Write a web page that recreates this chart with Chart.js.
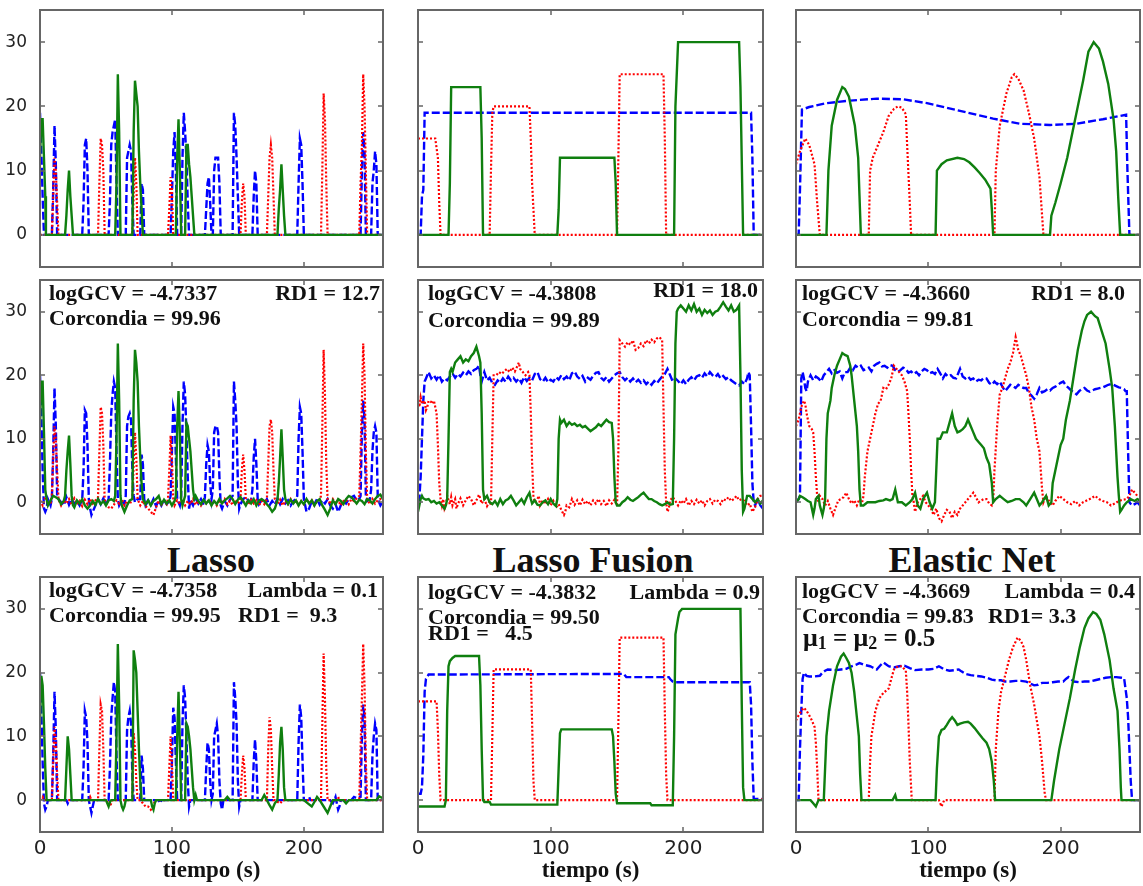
<!DOCTYPE html>
<html>
<head>
<meta charset="utf-8">
<title>Lasso / Lasso Fusion / Elastic Net</title>
<script src="https://cdn.jsdelivr.net/npm/chart.js@4.4.1/dist/chart.umd.min.js"></script>
<style>
  html, body { margin: 0; padding: 0; background: #fff; }
  #figure { position: relative; width: 1143px; height: 886px; background: #fff; overflow: hidden; }
  #figure canvas { position: absolute; }
  .method-title {
    position: absolute; width: 300px; text-align: center;
    font: bold 36px "Liberation Serif", "Times New Roman", serif;
    line-height: 36px; color: #111;
  }
</style>
</head>
<body>
<div id="figure"></div>
<script>
// ─── Axes ─────────────────────────────────────────────────────────────────
const xTicks = [0, 100, 200];
const yTicks = [0, 10, 20, 30];
const xRange = [0, 260];
const yRange = [-5, 35];
const methodTitles = ['Lasso', 'Lasso Fusion', 'Elastic Net'];
const xAxisTitle = 'tiempo (s)';

// ─── Signals, [tiempo, valor] (blue / red / green) ─────────────────────────
// Lasso: sparse spikes
const lassoTrueBlue = [[0,19],[1,13],[2,6],[3,0],[9,0],[10,7],[11,17],[12,11],[13,0],[32,0],[33,5],[34,14],[35,15],[36,10],[37,0],[52,0],[53,5],[54,14],[55,16],[56,17],[57,18],[58,8],[59,0],[65,0],[66,12],[67,13],[68,14],[69,13],[70,5],[71,0],[76,0],[77,8],[78,7],[79,0],[99,0],[100,6],[101,13],[102,16],[103,10],[104,0],[107,0],[108,12],[109,19],[110,16],[111,12],[112,5],[113,0],[125,0],[126,4],[127,8],[128,9],[129,5],[130,0],[131,0],[132,10],[133,12],[134,12],[135,12],[136,8],[137,0],[146,0],[147,19],[148,17],[149,12],[150,6],[151,0],[161,0],[162,6],[163,10],[164,8],[165,0],[195,0],[196,8],[197,15],[198,14],[199,8],[200,0],[243,0],[244,10],[245,16],[246,13],[247,0],[251,0],[252,8],[253,10],[254,13],[255,11],[256,0],[260,0]];
const lassoTrueRed = [[0,0],[9,0],[10,6],[11,12],[12,10],[13,5],[14,0],[44,0],[45,8],[46,15],[47,14],[48,10],[49,0],[70,0],[71,6],[72,12],[73,8],[74,0],[97,0],[98,4],[99,9],[100,7],[101,0],[152,0],[153,5],[154,8],[155,6],[156,0],[172,0],[173,6],[174,12],[175,14],[176,12],[177,6],[178,0],[213,0],[214,10],[215,22],[216,18],[217,8],[218,0],[242,0],[243,8],[244,14],[245,25],[246,20],[247,10],[248,0],[260,0]];
const lassoTrueGreen = [[0,12],[1,18],[2,18],[3,12],[4,6],[4.5,0],[19,0],[20,3],[21,7],[22,10],[23,6],[24,3],[25,0],[57,0],[58,8],[59,25],[60,16],[61,0],[70,0],[71,16],[72,24],[73,22],[74,20],[75,13],[76,8],[77,4],[78,0],[103,0],[104,12],[105,18],[106,10],[107,0],[110,0],[111,14],[112,14],[113,11],[114,9],[115,6],[116,3],[117,0],[180,0],[181,4],[182,7],[183,11],[184,7],[185,3],[186,0],[260,0]];

const lassoNoisyBlue = [[0,20],[1,14],[2,5],[3,-1],[4,-1.5],[5,-1],[6,0.5],[7,0],[8,-0.5],[9,0.5],[10,8],[11,18],[12,12],[13,1],[14,0.5],[16,0],[18,-0.5],[20,0.8],[22,-0.4],[24,0.5],[26,-0.3],[28,0.2],[30,-0.5],[32,0.4],[33,5],[34,14.5],[35,14],[36,9],[37,0.5],[38,-1],[39,-2],[40,-1.5],[42,-0.5],[44,0.5],[46,-0.3],[48,0.6],[50,-0.4],[52,0.5],[53,6],[54,14],[55,17],[56,19],[57,18],[58,8],[59,0.5],[60,-0.5],[62,0.3],[64,-0.3],[65,1],[66,12],[67,13.5],[68,14],[69,13],[70,5],[71,1],[72,0],[74,0.5],[76,0.5],[77,7.5],[78,6],[79,0.5],[80,-0.5],[82,0.3],[84,-0.4],[86,0.5],[88,-0.6],[90,0.3],[92,-0.5],[94,0.4],[96,-0.3],[98,0.2],[99,1],[100,8],[101,15],[102,14],[103,7],[104,0.5],[106,-0.5],[107,1],[108,12],[109,19],[110,17],[111,11],[112,4],[113,-1],[114,0.3],[116,-0.5],[118,0.6],[120,-0.2],[122,0.5],[124,-0.4],[125,0.8],[126,6],[127,9],[128,8],[129,3],[130,0.5],[131,2],[132,11],[133,12],[134,12],[135,11],[136,4],[137,-0.5],[138,-1],[140,0.2],[142,-0.5],[144,0.4],[146,1],[147,19],[148,16],[149,12],[150,3],[151,-1],[152,-0.3],[154,0.5],[156,0.8],[158,0.2],[160,0.3],[161,2],[162,7],[163,10],[164,6],[165,0.5],[166,-0.3],[168,0.4],[170,-0.2],[172,0.5],[174,-0.5],[176,0.2],[178,-0.4],[180,0.6],[182,-0.3],[184,0.5],[186,-0.2],[188,0.3],[190,-0.5],[192,0.2],[194,0.5],[195,1],[196,10],[197,15],[198,14],[199,8],[200,0.5],[202,-1.5],[204,-1],[206,0.2],[208,-0.3],[210,0.5],[212,-0.4],[214,0.3],[216,-0.2],[218,0.5],[220,-0.5],[222,-1],[224,-0.3],[226,-1.5],[228,-0.5],[230,0.3],[232,-0.2],[234,0.5],[236,0.8],[238,1],[240,0.3],[242,0.5],[243,1],[244,11],[245,16],[246,13],[247,1],[248,0.2],[250,0.5],[251,2],[252,8],[253,11],[254,12],[255,11],[256,1],[257,0],[258,-0.5],[260,0.2]];
const lassoNoisyRed = [[0,0.3],[2,-0.5],[4,0.8],[6,0.2],[8,-0.3],[9,1],[10,7],[11,12],[12,10],[13,5],[14,0.5],[16,-0.5],[18,0.3],[20,-0.2],[22,0.5],[24,-0.4],[26,0.6],[28,-0.3],[30,0.2],[32,-0.6],[34,0.4],[36,-0.3],[38,0.5],[40,-0.2],[42,0.3],[44,0.8],[45,8],[46,15],[47,14],[48,9],[49,0.5],[50,-0.3],[52,-0.8],[54,-1],[56,-0.4],[58,0.3],[60,-0.2],[62,0.5],[64,-0.5],[66,0.2],[68,-0.3],[70,0.5],[71,6],[72,11],[73,7],[74,0.5],[76,-0.5],[78,0.2],[80,-0.6],[82,-1],[84,-1.5],[86,-2],[88,-0.8],[90,0.3],[92,-0.4],[94,0.2],[96,-0.3],[97,0.5],[98,5],[99,10.5],[100,7],[101,0.5],[102,-0.5],[104,0.3],[106,-0.2],[108,0.4],[110,-0.5],[112,0.2],[114,-0.3],[116,0.5],[118,-0.4],[120,0.2],[122,-0.5],[124,0.3],[126,-0.2],[128,0.4],[130,-0.3],[132,0.2],[134,-0.5],[136,0.3],[138,-0.2],[140,0.5],[142,-0.3],[144,0.2],[146,-0.4],[148,0.3],[150,-0.2],[152,0.5],[153,5],[154,7.5],[155,5],[156,0.5],[158,-0.3],[160,0.4],[162,-0.2],[164,0.3],[166,-0.5],[168,0.2],[170,-0.3],[172,0.5],[173,6],[174,12],[175,13],[176,11],[177,5],[178,0.5],[180,-0.3],[182,0.4],[184,-0.5],[186,0.2],[188,-0.3],[190,0.5],[192,-0.2],[194,0.3],[196,-0.4],[198,0.2],[200,-0.3],[202,0.5],[204,-0.2],[206,0.3],[208,-0.5],[210,0.2],[212,0.4],[213,1],[214,12],[215,24],[216,17],[217,6],[218,0.5],[220,-0.3],[222,0.5],[224,-0.2],[226,0.3],[228,-0.5],[230,0.2],[232,0.4],[234,-0.3],[236,0.5],[238,0.2],[240,0.6],[242,1],[243,8],[244,16],[245,25],[246,20],[247,8],[248,0.5],[250,-0.3],[252,0.5],[254,-0.2],[256,0.3],[258,0.5],[260,0.2]];
const lassoNoisyGreen = [[0,12],[1,19],[2,19],[3,11],[4,2],[5,0.5],[6,-0.5],[8,0.3],[10,1],[12,0.8],[14,0.5],[16,-0.3],[18,0.2],[19,1],[20,5],[21,8],[22,10.5],[23,6],[24,1],[25,-0.5],[26,-0.8],[28,0.3],[30,-0.2],[32,0.5],[34,-0.5],[36,-1],[38,-0.5],[40,0.2],[42,-0.4],[44,0.5],[46,-0.3],[48,0.2],[50,-0.5],[52,0.3],[54,0.5],[56,0.2],[57,1],[58,10],[59,25],[60,16],[61,1],[62,-0.5],[64,-1.5],[66,-0.5],[68,0.3],[70,0.5],[71,16],[72,24],[73,22],[74,19],[75,12],[76,7],[77,3],[78,0.5],[80,-0.3],[82,0.3],[84,-0.5],[86,0.2],[88,0.5],[90,1],[92,-0.3],[94,0.4],[96,-0.2],[98,0.3],[100,-0.5],[102,0.2],[103,1],[104,12],[105,17.5],[106,11],[107,0.5],[108,-0.5],[110,1],[111,12.5],[112,12],[113,10],[114,8],[115,5],[116,2],[117,0.5],[118,1],[120,0.2],[122,-0.3],[124,0.4],[126,-0.2],[128,0.3],[130,-0.5],[132,0.2],[134,-0.3],[136,0.5],[138,-0.2],[140,0.3],[142,0.6],[144,1],[146,0.5],[148,-0.3],[150,0.4],[152,0.8],[154,0.2],[156,-0.5],[158,0.3],[160,-0.2],[162,0.5],[164,-0.5],[166,0.3],[168,0.5],[170,0.2],[172,-0.3],[174,-0.8],[176,-1.5],[178,-1],[180,0.3],[181,3],[182,7],[183,11.5],[184,7],[185,2],[186,0.5],[188,-0.3],[190,0.4],[192,-0.2],[194,0.3],[196,-0.5],[198,0.2],[200,-0.3],[202,0.5],[204,-0.2],[206,0.3],[208,-0.5],[210,0.2],[212,0.5],[214,-0.5],[216,-1.2],[218,-2],[220,-1],[222,0.3],[224,-0.3],[226,0.5],[228,0.2],[230,-0.3],[232,0.5],[234,1],[236,0.8],[238,0.3],[240,-0.2],[242,0.4],[244,0.2],[246,-0.3],[248,0.5],[250,0.3],[252,-0.2],[254,0.5],[256,1],[258,1.2],[260,0.5]];

const lassoFitBlue = [[0,20],[1,14],[2,6],[3,-0.5],[4,-1.5],[5,-1],[6,0],[9,0],[10,7],[11,17],[12,11],[13,0],[20,0],[21,-0.5],[22,0],[32,0],[33,5],[34,14],[35,13],[36,9],[37,0],[38,-1],[39,-2],[40,-1],[41,0],[52,0],[53,5],[54,13],[55,16],[56,18.5],[57,17],[58,7],[59,0],[65,0],[66,11],[67,13],[68,14],[69,12],[70,4],[71,0],[76,0],[77,7],[78,5],[79,0],[90,0],[91,-0.5],[92,0],[99,0],[100,6],[101,14.5],[102,13],[103,6],[104,0],[107,0],[108,12],[109,18],[110,16],[111,10],[112,3],[113,-1],[114,0],[125,0],[126,5],[127,9],[128,8],[129,3],[130,0],[131,1],[132,10],[133,11],[134,12],[135,10],[136,3],[137,-0.5],[138,-1.5],[139,0],[146,0],[147,18.5],[148,16],[149,12],[150,3],[151,-1],[152,0],[161,0],[162,6],[163,9.5],[164,6],[165,0],[195,0],[196,9],[197,15],[198,13],[199,6],[200,0],[203,0],[204,0.5],[205,0],[220,0],[222,-0.5],[224,0.5],[226,-1.5],[227,-1],[228,0],[236,0],[238,0.5],[240,0.3],[243,0.5],[244,10],[245,15],[246,13],[247,0],[251,0],[252,7],[253,10],[254,12],[255,11],[256,0],[260,0]];
const lassoFitRed = [[0,0],[2,0.5],[3,0],[9,0],[10,6],[11,11.5],[12,9],[13,4],[14,0],[37,0],[38,0.5],[39,0],[44,0],[45,8],[46,15],[47,14],[48,8],[49,0],[50,0],[52,-0.5],[53,-1],[54,-0.5],[55,0],[70,0],[71,10.5],[72,8],[73,3],[74,0],[76,0],[78,-0.5],[80,-1],[82,-1],[84,-1.5],[86,-1],[87,0],[97,0],[98,5],[99,10],[100,6],[101,0],[152,0],[153,4],[154,7],[155,5],[156,0],[172,0],[173,8],[174,13],[175,11],[176,5],[177,0],[178,0],[182,-0.5],[184,0],[213,0],[214,12],[215,23],[216,16],[217,5],[218,0],[225,0],[226,0.5],[227,0],[242,0],[243,8],[244,16],[245,24.5],[246,18],[247,6],[248,0],[258,0],[259,-0.3],[260,0]];
const lassoFitGreen = [[0,12],[1,19.5],[2,18],[3,12],[4,5],[5,0],[19,0],[20,5],[21,10],[22,8],[23,4],[24,0],[50,0],[51,-0.5],[52,-1],[53,-0.3],[54,0],[57,0],[58,10],[59,24.5],[60,15],[61,0],[62,-1],[63,-1.5],[64,-1],[65,0],[70,0],[71,23.5],[72,22],[73,20],[74,14],[75,8],[76,3],[77,0],[84,0],[85,-1],[86,-1.5],[87,-0.5],[88,0],[103,0],[104,10],[105,17],[106,9],[107,0],[110,0],[111,12],[112,11.5],[113,10],[114,8],[115,5],[116,2],[117,0],[118,0.8],[119,0],[140,0],[142,0.5],[144,0],[168,0],[170,0.8],[172,0],[174,-0.8],[176,-1.5],[178,-0.5],[180,0],[181,4],[182,9],[183,11.5],[184,8],[185,2],[186,0],[200,0],[203,-0.5],[206,-1],[208,-0.3],[210,0.5],[212,0],[215,-1],[218,-2],[220,-1],[222,0],[230,0],[232,-0.5],[234,0],[255,0],[257,0.6],[260,0.3]];

// Lasso Fusion: piecewise constant
const fusionTrueBlue = [[0,0],[2,0],[3,6],[4,7],[5,19],[251,19],[252,12],[253,0],[260,0]];
const fusionTrueRed = [[0,15],[13,15],[15,12],[16,5],[17,0],[54,0],[55,10],[56,19],[57,20],[84,20],[85,15],[86,8],[88,0],[150,0],[151,12],[152,25],[185,25],[186,15],[187,0],[260,0]];
const fusionTrueGreen = [[0,0],[23,0],[24,8],[25,23],[47,23],[48,15],[49,0],[105,0],[106,4],[107,12],[148,12],[149,8],[150,0],[193,0],[194,20],[196,30],[242,30],[243,23],[245,0],[260,0]];

const fusionNoisyBlue = [[0,0],[1,0.5],[2,4],[3,10],[4,16],[5,19],[6,19.5],[8,20.5],[10,19.5],[12,20],[14,19.3],[16,20],[18,19],[20,19.5],[22,19.2],[24,19.8],[26,20.3],[28,19.6],[30,20.2],[32,19.8],[34,20.4],[36,20],[38,20.6],[40,20.2],[42,20.8],[44,21],[46,21.5],[47,20],[48,19],[50,20.5],[52,19.2],[54,19.6],[56,18.8],[58,18.5],[60,19.2],[62,18.8],[64,19.5],[66,19],[68,19.8],[70,19.2],[72,19.6],[74,19],[76,19.5],[78,18.8],[80,19.7],[82,19.1],[84,19.6],[86,19.2],[88,20.2],[90,20.5],[92,19.4],[94,19],[96,19.6],[98,18.9],[100,19.3],[102,19],[104,19.7],[106,19.3],[108,20],[110,19.4],[112,19.8],[114,19.2],[116,20.3],[118,20.6],[120,19.8],[122,19.4],[124,19.9],[126,19],[128,19.6],[130,19.3],[132,19.9],[134,20.4],[136,20.5],[138,19.6],[140,19.2],[142,19.7],[144,19],[146,19.5],[148,20],[150,20.3],[152,20.5],[154,19.7],[156,19.2],[158,19.6],[160,19],[162,19.5],[164,18.9],[166,19.3],[168,18.8],[170,19.2],[172,18.6],[174,19],[176,18.5],[178,19.1],[180,18.7],[182,19.3],[184,19.8],[186,20.2],[188,21],[190,20],[192,19],[194,19.5],[196,19.1],[198,18.6],[200,19.2],[202,18.6],[204,19.3],[206,19.7],[208,19.2],[210,19.8],[212,20],[214,19.6],[216,20.3],[218,19.8],[220,20.5],[222,20],[224,19.7],[226,20.2],[228,19.5],[230,19.9],[232,19.4],[234,19.7],[236,19.2],[238,18.9],[240,18.6],[242,18.4],[244,19],[246,18.6],[248,19.5],[249,20.5],[250,20],[251,12],[252,3],[253,0],[254,-0.5],[256,0.5],[258,-0.5],[260,-1]];
const fusionNoisyRed = [[0,16],[1,15],[2,16.5],[3,15.5],[5,16],[6,14.5],[7,15],[8,16],[10,15.8],[11,15.5],[12,16],[13,15],[14,14],[15,9],[16,3],[17,0.5],[18,-0.5],[19,0.5],[20,-1],[21,-0.5],[22,1],[24,-0.3],[25,0.8],[26,-0.5],[28,0.5],[29,-1],[30,-0.3],[32,0.6],[34,-0.5],[36,0.3],[38,1],[40,0.5],[42,-0.5],[44,0.3],[46,1.2],[47,0.5],[48,-0.2],[50,0.5],[52,-0.6],[54,0.2],[55,-0.5],[56,10],[57,20],[59,20],[61,20.5],[63,20.2],[65,20.6],[67,21],[69,20.5],[71,21.2],[73,20.6],[75,21.5],[76,22],[77,21],[79,20.5],[81,20],[83,20.5],[84,20],[85,14],[86,6],[87,1],[88,0],[90,0.5],[91,1],[92,-0.5],[94,0.3],[96,-0.3],[98,0.5],[100,-0.5],[102,0.2],[104,-0.8],[106,-0.3],[108,-1.2],[110,-2],[111,-1.5],[112,-0.5],[114,-0.8],[116,0.5],[118,-0.4],[120,0.3],[122,-0.5],[124,0.4],[126,-0.3],[128,0.2],[130,-0.5],[132,0.3],[134,-0.2],[136,0.5],[138,-0.3],[140,0.2],[142,-0.6],[144,0.3],[146,-0.2],[148,0.4],[150,-0.5],[151,8],[152,25.5],[154,25],[156,24.5],[158,25.2],[160,24.8],[162,25.5],[164,24],[166,24.3],[168,25],[170,24.6],[172,25.5],[174,25],[176,25.6],[178,25.2],[180,25.8],[182,26],[184,25.5],[185,15],[186,5],[187,0],[188,-1.5],[189,-1],[190,0.3],[192,0.8],[194,0.2],[196,-0.5],[198,0.3],[200,-0.2],[202,0.5],[204,-0.5],[206,0.2],[208,-0.3],[210,0.4],[212,-0.2],[214,0.3],[216,-0.5],[218,0.2],[220,0.5],[222,-0.2],[224,0.4],[226,0.2],[228,-0.3],[230,0.5],[232,0.3],[234,0.8],[236,0.2],[238,0.5],[240,1],[242,0.3],[244,0.5],[246,0.2],[248,-0.5],[250,-0.2],[252,-1.5],[254,-0.8],[256,0.5],[258,1],[260,1]];
const fusionNoisyGreen = [[0,-1.5],[1,-0.5],[2,0.5],[3,1],[4,0.6],[6,0.4],[8,0.5],[10,0],[12,0.2],[14,-0.2],[16,0],[18,-0.5],[20,-1],[21,-0.5],[22,0.5],[23,10],[24,20.5],[25,21],[26,20.5],[28,22],[30,22.5],[32,23],[34,22],[36,22.5],[38,22.2],[40,23],[42,23.5],[44,24.5],[46,23],[47,22],[48,14],[49,2],[50,0.5],[52,1],[54,0],[56,-0.3],[58,0.2],[60,-0.5],[62,0.5],[64,-0.3],[66,0.3],[68,0.5],[70,1],[72,0.3],[74,-0.5],[76,0],[78,0.5],[80,-0.2],[82,0.8],[84,1.5],[85,0.5],[86,-0.2],[88,0.3],[90,-0.4],[92,-0.5],[94,0],[96,0.3],[98,-0.3],[100,0.5],[102,-0.2],[104,-0.6],[105,0.5],[106,10],[107,13],[108,12.5],[110,13],[112,12],[114,12.6],[116,12.2],[118,12.4],[120,12],[122,12.2],[124,11.8],[126,12],[128,11.6],[130,11.2],[132,11.5],[134,11.8],[136,12.3],[138,12],[140,12.5],[142,13],[144,12.6],[146,12.5],[147,10],[148,4],[149,0],[150,-0.5],[152,-0.5],[154,0],[156,0.3],[158,0.8],[160,0.4],[162,0.2],[164,0.5],[166,0.8],[168,1.2],[170,1.5],[172,1],[174,0.5],[176,0.5],[178,0.2],[180,0],[182,-0.3],[184,-0.5],[186,-0.3],[188,0],[190,-0.4],[192,-0.3],[193,10],[194,25],[195,30],[196,30.5],[198,31],[200,30.5],[202,30],[204,31],[206,30.2],[208,31.2],[210,30],[212,30.5],[214,29.5],[216,30.3],[218,29.8],[220,30.2],[222,29.5],[224,30],[226,30.2],[228,30.8],[230,31.5],[232,30.8],[234,30.2],[236,31],[238,30],[240,30.3],[242,31],[243,20],[244,5],[245,-1.5],[246,-1],[247,0],[248,1],[250,1],[252,0.5],[254,0],[256,0.5],[258,-0.2],[260,0.3]];

const fusionFitBlue = [[0,1],[2,1],[3,2],[4,7],[5,17],[6,19],[8,19.7],[155,19.8],[157,19.3],[189,19.3],[190,19],[192,18.6],[194,18.5],[250,18.5],[251,15],[252,6],[253,0.2],[260,0.2]];
const fusionFitRed = [[0,15.5],[14,15.5],[15,11],[16,4],[17,0],[55,0],[56,10],[57,20.5],[85,20.5],[86,12],[87,3],[88,0],[150,0],[151,12],[152,25.5],[185,25.5],[186,14],[187,4],[188,0],[258,0],[260,0.2]];
const fusionFitGreen = [[0,-1],[20,-1],[21,0],[22,14],[23,21],[24,21.8],[26,22.3],[28,22.6],[46,22.6],[47,18],[48,8],[49,0],[50,-0.3],[54,-0.3],[55,-0.7],[105,-0.7],[106,5],[107,10.5],[108,11.1],[146,11.1],[147,10],[148,6],[149,1],[150,-0.5],[175,-0.5],[176,-0.8],[192,-0.8],[193,10],[194,26],[196,28.5],[197,29.5],[199,30],[243,30],[244,15],[245,2],[246,0],[260,0]];

// Elastic Net: smooth bumps
const elasticTrueBlue = [[0,0],[2,0],[3,7],[4.5,19.5],[10,19.9],[23,20.5],[41,20.9],[61,21.2],[81,21.1],[99,20.5],[124,19.3],[149,18.1],[169,17.3],[192,17.1],[212,17.3],[232,18],[249.5,18.7],[250.5,10],[252,0],[260,0]];
const elasticTrueRed = [[0,11],[3,13],[7,15],[10,14],[14,11],[16,5],[18,0],[55,0],[56,10],[58,12],[62,14],[66,16],[70,18.5],[74,19.6],[77,20],[80,19.8],[83,18.8],[84,14],[86,5],[87,0],[150,0],[151,10],[154,17],[159,22],[163,24.5],[165,25],[168,24.3],[172,22.5],[176,19],[180,15],[184,9],[186,3],[187,0],[260,0]];
const elasticTrueGreen = [[0,0],[23,0],[24.5,10],[27,17],[31,21],[35,23],[37,22.7],[40,21.5],[44.5,17],[47,12],[48,6],[49,0],[105.5,0],[106.5,10],[110,11],[114,11.6],[122,12],[127,11.8],[131,11.3],[135,10.5],[139,9.6],[143,8.6],[147,7.2],[148,4],[149,0],[192,0],[193,3],[196,5],[200,8],[205,12],[209,16],[213,20],[217,24],[221,28.5],[225,30],[229,29],[232,27],[236,23.5],[240,18],[242,13],[243.5,6],[245,0],[260,0]];

const elasticNoisyBlue = [[0,0],[2,0.5],[3,1],[4,19.5],[5,20.5],[6,19.5],[7,18],[8,17.5],[9,19],[11,20],[13,19.2],[15,19.8],[17,19.5],[19,19],[21,20],[23,20.5],[25,21],[27,20.3],[29,20.8],[31,20.4],[33,20.6],[35,19.5],[37,20.5],[39,20.5],[41,21.2],[43,20.8],[45,21.5],[47,21.2],[49,21.5],[51,20.8],[53,21],[55,21.2],[57,20.6],[59,21.5],[61,21.8],[63,22],[65,21.4],[67,21.5],[69,21.2],[71,21.6],[73,21.5],[75,20.8],[77,20.5],[79,20.8],[81,21.2],[83,21],[85,20.4],[87,20.6],[89,20.2],[91,20.5],[93,20],[95,20.6],[97,21],[99,20.8],[101,20.3],[103,20.5],[105,20.2],[107,21],[109,20.3],[111,19.5],[113,20.2],[115,19.8],[117,20],[119,19.6],[121,19.5],[123,20.5],[124,21],[126,19.8],[128,19.5],[130,19.8],[132,19.3],[134,19.5],[136,19],[138,19.3],[140,19.2],[142,19.6],[144,19.5],[146,18.8],[148,18.5],[150,19],[152,18.6],[154,19],[156,18.2],[158,17.5],[160,18],[162,18.5],[164,18.3],[166,18],[168,18.5],[170,18.2],[172,18],[174,18],[176,17.2],[178,16.8],[180,16.3],[182,17],[184,18],[186,17.3],[188,17.5],[190,17.8],[192,17.6],[194,18],[196,18.2],[198,18.5],[200,18.8],[202,19],[204,18.4],[206,18],[208,17.6],[210,17.3],[212,17],[214,17.5],[216,17.8],[218,18],[220,17.6],[222,17.4],[224,17.6],[226,17.8],[228,17.9],[230,18],[232,18.1],[234,18.3],[236,18.5],[238,18.6],[240,18.5],[242,18.3],[244,18.1],[246,18],[248,17.8],[249,17.5],[250,17.5],[251,8],[252,0],[254,-0.5],[256,-0.3],[258,0],[260,-0.5]];
const elasticNoisyRed = [[0,12],[2,13],[4,15],[6,16],[7,15.5],[8,14],[10,12],[12,11.5],[13,11],[14,8],[15,4],[16,1],[17,0],[18,1],[20,0.5],[22,-0.5],[24,0.2],[26,-1],[28,-2],[30,-0.8],[32,0.3],[34,0.5],[36,0.8],[38,1.5],[40,0.5],[42,-0.2],[44,0.3],[46,-0.5],[48,0.5],[50,0],[51,1],[52,4],[54,8],[56,10],[58,12],[60,14],[62,15.5],[64,16],[66,18],[68,17.8],[70,18.5],[72,19.5],[74,21.5],[76,21],[78,20.5],[80,20],[82,19],[84,17.5],[85,14],[86,10],[87,5],[88,1],[89,0],[90,-1.5],[92,0],[94,0.5],[96,1],[98,0],[100,-0.5],[102,-1],[104,-2],[106,-1],[108,-2.5],[110,-3],[112,-2],[114,-1.2],[116,-1.5],[118,-2.5],[120,-1.5],[122,-2],[124,-1],[126,-0.5],[128,0],[130,0.5],[132,1],[134,1.5],[136,0.8],[138,0],[140,0.3],[142,0.5],[144,0.5],[146,-0.2],[148,-0.5],[149,0],[150,5],[152,12],[154,17],[156,18],[158,19.5],[160,21],[162,22],[164,23.5],[166,26],[168,24],[170,23],[172,21.5],[174,20],[176,18],[178,15],[180,13],[182,10],[184,8],[185,5],[186,2],[187,0],[189,1],[191,0.3],[194,-0.5],[196,0.2],[199,1],[202,0.5],[205,0],[208,-0.3],[211,0.2],[214,-0.5],[217,0],[220,0.3],[223,0.6],[226,1],[229,0.5],[232,0.2],[235,0],[238,-0.5],[241,-0.2],[244,0.2],[247,0.4],[250,0.5],[252,1],[254,2],[256,1.5],[258,1],[260,1]];
const elasticNoisyGreen = [[0,0],[2,0.5],[3,1],[5,0.8],[7,0.5],[9,0.2],[11,0],[12,-1],[13,-2],[14,-1],[15,0.5],[17,1],[18,-0.5],[20,-2],[21,-1],[22,0.5],[23,10],[24,14],[26,16],[27,18],[29,20],[31,21.5],[33,22.5],[35,23.5],[37,23.2],[39,23],[41,21.5],[42,20],[44,16],[46,12],[47,8],[48,2],[49,-0.5],[51,-0.5],[54,0],[57,0],[60,0],[63,0.2],[66,0.3],[68,0.5],[71,0.3],[73,0.5],[75,2],[77,0],[80,0],[83,-0.5],[86,0],[88,0.5],[90,1.5],[92,-0.5],[94,-1],[96,0.5],[99,1.5],[101,0],[103,-1],[105,0],[106,5],[107,10],[109,10],[111,11],[114,11],[116,12.5],[118,14],[120,12],[122,11],[124,11.2],[126,11.5],[128,12],[130,13],[132,12],[134,11],[136,10],[138,9.5],[140,9],[142,8.5],[144,7],[146,6],[148,3],[149,0],[151,0.5],[154,1],[157,0.5],[160,0],[163,0.2],[166,0.5],[169,0.5],[172,0],[174,-0.5],[177,0.5],[180,1.5],[182,0.5],[184,-0.5],[186,0],[189,1],[191,-0.5],[193,0],[194,3],[196,5],[198,7],[200,9],[202,10],[204,13],[207,16],[210,20],[213,24],[216,27],[218,28.5],[220,29.5],[223,30],[226,29.3],[228,29],[231,27],[234,25],[237,21],[239,18],[241,12],[242,8],[243,4],[244,1],[245,-1.5],[246,-1.2],[248,-0.5],[250,0],[253,0.5],[256,0.2],[258,0.5],[260,0.3]];

const elasticFitBlue = [[0,0],[2,0],[3,8],[4,14],[5,19],[6,20],[8,19.5],[10,19.4],[14,19.4],[18,19.5],[20,20],[22,20.3],[24,20.5],[30,20.4],[34,20.5],[38,20.6],[42,21],[46,21.3],[48,21.5],[52,21.2],[56,21],[58,20.8],[61,20.5],[64,21.2],[66,21.6],[70,21],[74,20.8],[78,21],[82,21.1],[86,20.7],[90,20.4],[95,20.5],[100,20.5],[104,20.6],[108,21],[112,20.5],[116,20.3],[120,20.4],[123,20.5],[125,20.2],[128,19.8],[132,19.6],[136,19.5],[140,19.4],[144,19.2],[148,18.9],[151,18.8],[155,18.8],[158,18.6],[162,18.6],[166,18.7],[170,18.7],[174,18.6],[177,18.3],[180,18],[183,18.1],[186,18.4],[190,18.4],[194,18.5],[198,18.6],[202,18.6],[204,19],[206,19.3],[208,19],[210,18.6],[214,18.5],[218,18.6],[222,18.6],[226,18.8],[230,19],[234,19.2],[238,19.3],[242,19.3],[246,19.2],[248,19.1],[250,16],[251,13],[252,8],[253,3],[254,0],[260,0]];
const elasticFitRed = [[0,12.5],[2,13.3],[4,14],[6,14.5],[8,14],[10,13.3],[12,12.5],[14,11.5],[15,9],[16,5],[17,0],[55,0],[56,6],[57,10],[60,14],[63,16],[66,16.8],[70,17.5],[72,19],[74,20.5],[77,21],[80,21],[83,20.3],[84,17],[85,12],[86,6],[87.5,0],[108,0],[110,-1],[112,0],[150,0],[151,8],[153,14],[155,17],[158,19.5],[161,22],[164,24],[167.5,25.5],[170,25],[172,24],[174,22],[177,18],[180,15],[184,10],[186,6],[188,1],[189,0],[260,0]];
const elasticFitGreen = [[0,0],[11,0],[13,-0.5],[15,-1],[17,0],[21,0],[22,5],[23,10],[25,14],[28,18],[31,21],[34,22.5],[36,23],[38,22.3],[40,21.5],[42,20],[44,17],[46,13],[47.5,10],[48.5,4],[49.5,0],[73,0],[75,0.8],[76,0],[105.5,0],[106.5,5],[108,10],[110,11],[112,11.2],[114,11.8],[116,12.5],[118,13],[120,12.5],[122,11.8],[124,12],[127,12.2],[130,12.3],[132,12],[135,11.3],[138,10.5],[141,9.7],[144,9],[146,8],[148,6],[149.5,3],[150.5,0],[193,0],[195,3],[197,5.5],[199,8],[203,12],[207,16],[211,20.5],[214.5,24],[218,27],[221,28.5],[224.5,29.5],[227,29.2],[230,28.3],[233,26],[237,22],[240,17.5],[243,14],[244.5,8],[245.5,2],[246,0],[260,0]];

// ─── Fit statistics ───────────────────────────────────────────────────────
const lassoNoisyNotes = ['logGCV = -4.7337', 'Corcondia = 99.96', 'RD1 = 12.7'];
const fusionNoisyNotes = ['logGCV = -4.3808', 'Corcondia = 99.89', 'RD1 = 18.0'];
const elasticNoisyNotes = ['logGCV = -4.3660', 'Corcondia = 99.81', 'RD1 = 8.0'];
const lassoFitNotes = ['logGCV = -4.7358', 'Corcondia = 99.95', 'Lambda = 0.1', 'RD1 =  9.3'];
const fusionFitNotes = ['logGCV = -4.3832', 'Corcondia = 99.50', 'Lambda = 0.9', 'RD1 =   4.5'];
const elasticFitNotes = ['logGCV = -4.3669', 'Corcondia = 99.83', 'Lambda = 0.4', 'RD1= 3.3'];

// ─── Layout (px) ──────────────────────────────────────────────────────────
const COLS = [{ left: 40, right: 383 }, { left: 418, right: 763 }, { left: 796, right: 1140 }];
const ROWS = [{ top: 10, bottom: 267 }, { top: 280, bottom: 534 }, { top: 577, bottom: 832 }];
const TITLE_CENTERS = [211, 593, 972];
const TITLE_TOP = 542;
const Y_AXIS_W = 40;
const X_AXIS_H = 53;
const TICK_LEN = 5;
const NOTE_SIZE = 22;

const SERIES_STYLE = [
    { color: '#0000ff', dash: [8, 3], width: 2.4, order: 3 },
    { color: '#ff0000', dash: [2, 2], width: 2.2, order: 2 },
    { color: '#0f7f0f', dash: [],     width: 2.4, order: 1 }
];

const panels = [
    { row: 0, col: 0, series: [lassoTrueBlue, lassoTrueRed, lassoTrueGreen], notes: [] },
    { row: 0, col: 1, series: [fusionTrueBlue, fusionTrueRed, fusionTrueGreen], notes: [] },
    { row: 0, col: 2, series: [elasticTrueBlue, elasticTrueRed, elasticTrueGreen], notes: [] },
    { row: 1, col: 0, series: [lassoNoisyBlue, lassoNoisyRed, lassoNoisyGreen], notes: [
        { text: lassoNoisyNotes[0], dx: 9, dy: 20 },
        { text: lassoNoisyNotes[2], dx: -3, dy: 20, align: 'right' },
        { text: lassoNoisyNotes[1], dx: 9, dy: 45 }
    ] },
    { row: 1, col: 1, series: [fusionNoisyBlue, fusionNoisyRed, fusionNoisyGreen], notes: [
        { text: fusionNoisyNotes[0], dx: 10, dy: 20 },
        { text: fusionNoisyNotes[2], dx: -5, dy: 17, align: 'right' },
        { text: fusionNoisyNotes[1], dx: 10, dy: 47 }
    ] },
    { row: 1, col: 2, series: [elasticNoisyBlue, elasticNoisyRed, elasticNoisyGreen], notes: [
        { text: elasticNoisyNotes[0], dx: 6, dy: 20 },
        { text: elasticNoisyNotes[2], dx: -15, dy: 20, align: 'right' },
        { text: elasticNoisyNotes[1], dx: 6, dy: 46 }
    ] },
    { row: 2, col: 0, series: [lassoFitBlue, lassoFitRed, lassoFitGreen], notes: [
        { text: lassoFitNotes[0], dx: 9, dy: 20 },
        { text: lassoFitNotes[2], dx: -5, dy: 20, align: 'right' },
        { text: lassoFitNotes[1], dx: 9, dy: 45 },
        { text: lassoFitNotes[3], dx: 198, dy: 45 }
    ] },
    { row: 2, col: 1, series: [fusionFitBlue, fusionFitRed, fusionFitGreen], notes: [
        { text: fusionFitNotes[0], dx: 10, dy: 22 },
        { text: fusionFitNotes[2], dx: -3, dy: 22, align: 'right' },
        { text: fusionFitNotes[1], dx: 10, dy: 47 },
        { text: fusionFitNotes[3], dx: 10, dy: 63 }
    ] },
    { row: 2, col: 2, series: [elasticFitBlue, elasticFitRed, elasticFitGreen], notes: [
        { text: elasticFitNotes[0], dx: 6, dy: 21 },
        { text: elasticFitNotes[2], dx: -5, dy: 21, align: 'right' },
        { text: elasticFitNotes[1], dx: 6, dy: 46 },
        { text: elasticFitNotes[3], dx: 192, dy: 46 },
        { dx: 7, dy: 69, parts: [['μ', 26, 0], ['1', 18, 3], [' = ', 25, 0], ['μ', 26, 0], ['2', 18, 3], [' = 0.5', 25, 0]] }
    ] }
];

Chart.defaults.font.family = '"DejaVu Sans", sans-serif';
Chart.defaults.color = '#222';

// ─── Box with inward ticks on all four sides ──────────────────────────────
const framePlugin = {
    id: 'boxFrame',
    afterDatasetsDraw(chart) {
        const { ctx, chartArea: a, scales } = chart;
        const xs = scales.x, ys = scales.y;
        ctx.save();
        ctx.strokeStyle = '#666';
        ctx.lineWidth = 1.5;
        ctx.beginPath();
        xTicks.forEach(v => {
            const px = Math.round(xs.getPixelForValue(v));
            if (px <= a.left + 1 || px >= a.right - 1) return;
            ctx.moveTo(px, a.bottom); ctx.lineTo(px, a.bottom - TICK_LEN);
            ctx.moveTo(px, a.top);    ctx.lineTo(px, a.top + TICK_LEN);
        });
        yTicks.forEach(v => {
            const py = Math.round(ys.getPixelForValue(v));
            if (py <= a.top + 1 || py >= a.bottom - 1) return;
            ctx.moveTo(a.left, py);  ctx.lineTo(a.left + TICK_LEN, py);
            ctx.moveTo(a.right, py); ctx.lineTo(a.right - TICK_LEN, py);
        });
        ctx.stroke();
        ctx.lineWidth = 2;
        ctx.strokeRect(a.left, a.top, a.right - a.left, a.bottom - a.top);
        ctx.restore();
    }
};

// ─── Statistic labels inside the box ──────────────────────────────────────
const makeNotesPlugin = (notes) => ({
    id: 'panelNotes',
    afterDraw(chart) {
        const { ctx, chartArea: a } = chart;
        notes.forEach(item => {
            const parts = item.parts || [[item.text, NOTE_SIZE, 0]];
            ctx.save();
            ctx.fillStyle = '#111';
            ctx.textAlign = 'left';
            ctx.textBaseline = 'alphabetic';
            const widths = parts.map(([t, size]) => {
                ctx.font = `bold ${size}px "Liberation Serif", "Times New Roman", serif`;
                return ctx.measureText(t).width;
            });
            const total = widths.reduce((s, w) => s + w, 0);
            let x = item.align === 'right' ? a.right + item.dx - total : a.left + item.dx;
            const y = a.top + item.dy;
            parts.forEach(([t, size, dy], i) => {
                ctx.font = `bold ${size}px "Liberation Serif", "Times New Roman", serif`;
                ctx.fillText(t, x, y + dy);
                x += widths[i];
            });
            ctx.restore();
        });
    }
});

// ─── Build the grid ───────────────────────────────────────────────────────
const figure = document.getElementById('figure');

methodTitles.forEach((title, i) => {
    const el = document.createElement('div');
    el.className = 'method-title';
    el.textContent = title;
    el.style.left = (TITLE_CENTERS[i] - 150) + 'px';
    el.style.top = TITLE_TOP + 'px';
    figure.appendChild(el);
});

panels.forEach(p => {
    const col = COLS[p.col], row = ROWS[p.row];
    const showY = p.col === 0;
    const showX = p.row === 2;
    const padL = showY ? 0 : 12;
    const padB = showX ? 0 : 2;
    const left = col.left - (showY ? Y_AXIS_W : 0) - padL;
    const top = row.top - 2;
    const width = col.right - left + 2;
    const height = row.bottom - top + (showX ? X_AXIS_H : 0) + padB;

    const canvas = document.createElement('canvas');
    canvas.width = width;
    canvas.height = height;
    canvas.style.left = left + 'px';
    canvas.style.top = top + 'px';
    canvas.style.width = width + 'px';
    canvas.style.height = height + 'px';
    figure.appendChild(canvas);

    new Chart(canvas.getContext('2d'), {
        type: 'line',
        data: {
            datasets: p.series.map((pts, i) => ({
                data: pts.map(([x, y]) => ({ x, y })),
                borderColor: SERIES_STYLE[i].color,
                borderDash: SERIES_STYLE[i].dash,
                borderWidth: SERIES_STYLE[i].width,
                pointRadius: 0,
                tension: 0,
                fill: false,
                order: SERIES_STYLE[i].order
            }))
        },
        options: {
            responsive: false,
            animation: false,
            devicePixelRatio: 1,
            layout: { padding: { left: padL, right: 2, top: 2, bottom: padB } },
            plugins: { legend: { display: false }, tooltip: { enabled: false } },
            scales: {
                x: {
                    type: 'linear',
                    min: xRange[0],
                    max: xRange[1],
                    display: showX,
                    grid: { display: false },
                    border: { display: false },
                    ticks: { font: { size: 20 }, padding: -3, maxRotation: 0 },
                    afterBuildTicks: s => { s.ticks = xTicks.map(v => ({ value: v })); },
                    afterFit: s => {
                        s.height = showX ? X_AXIS_H : 0;
                        s.paddingLeft = 0;
                        s.paddingRight = 0;
                    },
                    title: {
                        display: true,
                        text: xAxisTitle,
                        color: '#111',
                        font: { family: '"Liberation Serif", "Times New Roman", serif', size: 23, weight: 'bold' },
                        padding: { top: 0, bottom: 0 }
                    }
                },
                y: {
                    min: yRange[0],
                    max: yRange[1],
                    display: showY,
                    grid: { display: false },
                    border: { display: false },
                    ticks: { font: { size: 17 }, padding: 5 },
                    afterBuildTicks: s => { s.ticks = yTicks.map(v => ({ value: v })); },
                    afterFit: s => {
                        s.width = showY ? Y_AXIS_W : 0;
                        s.paddingTop = 0;
                        s.paddingBottom = 0;
                    }
                }
            }
        },
        plugins: [framePlugin, makeNotesPlugin(p.notes)]
    });
});
</script>
</body>
</html>
